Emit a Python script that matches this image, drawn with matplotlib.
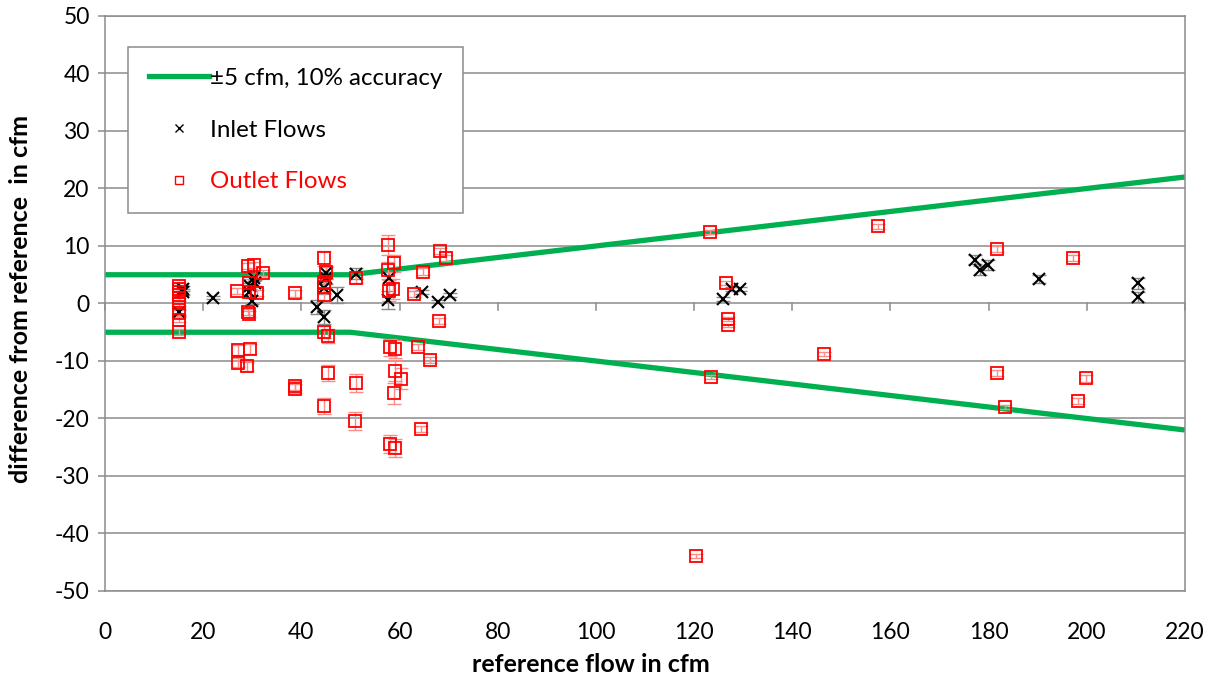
import matplotlib
matplotlib.use("Agg")
import matplotlib.pyplot as plt
from matplotlib.lines import Line2D
import numpy as np

plt.rcParams['font.family'] = ['Lato', 'DejaVu Sans']
plt.rcParams['axes.unicode_minus'] = False

# accuracy envelope (±5 cfm or 10%)
acc_x = [0, 50, 220]
acc_upper = [5, 5, 22]
acc_lower = [-5, -5, -22]

# Outlet flows: reference flow, difference, error
outlet_x = [15, 15, 15, 15, 15, 15, 15, 15, 15,
            29.2, 30.4, 32.1, 29.3, 29.3, 26.8, 30.9, 29.1, 29.3, 27.0, 27.0, 29.6, 28.9,
            38.8, 38.8, 38.8,
            44.7, 45.1, 44.7, 44.7, 44.7, 44.7, 45.4, 45.4, 44.7,
            51.2, 51.2, 51.0,
            57.7, 58.9, 57.6, 58.7, 57.9, 58.0, 59.0, 59.0, 60.3, 58.8, 58.0, 59.1,
            64.7, 68.3, 69.5, 62.9, 68.1, 63.8, 66.2, 64.4,
            123.3, 126.6, 126.9, 126.9, 123.5, 120.3, 157.4, 181.7, 197.2, 146.4,
            181.7, 199.8, 198.2, 183.3]
outlet_y = [3.0, 2.5, 2.0, 1.5, 1.0, 0.0, -1.7, -2.8, -5.0,
            6.5, 6.7, 5.3, 3.6, 2.0, 2.2, 1.8, -1.5, -1.8, -8.1, -10.3, -7.9, -10.9,
            1.8, -14.3, -14.8,
            7.9, 5.5, 3.7, 2.9, 1.5, -5.0, -5.7, -12.1, -17.8,
            4.5, -13.8, -20.4,
            10.2, 7.0, 5.8, 2.5, 2.2, -7.6, -7.9, -11.7, -13.1, -15.6, -24.4, -25.1,
            5.5, 9.1, 7.9, 1.7, -3.0, -7.6, -9.8, -21.8,
            12.4, 3.6, -2.7, -3.8, -12.8, -43.9, 13.4, 9.5, 7.9, -8.8,
            -12.1, -13.0, -16.9, -18.0]
outlet_err = [0.5, 0.5, 0.5, 0.5, 0.5, 0.5, 0.5, 0.5, 0.5,
              0.5, 0.6, 0.6, 0.6, 0.5, 0.5, 0.5, 0.5, 0.5, 0.8, 0.8, 0.8, 0.8,
              0.6, 0.8, 0.8,
              1.3, 1.0, 1.0, 1.0, 1.0, 1.0, 1.2, 1.4, 1.35,
              1.0, 1.6, 1.6,
              1.75, 1.5, 1.5, 1.8, 1.8, 1.5, 1.5, 1.8, 1.8, 1.8, 1.6, 1.6,
              0.6, 0.5, 0.5, 0.5, 0.5, 0.5, 0.5, 0.5,
              0.3, 0.3, 0.3, 0.3, 0.3, 0.3, 0.4, 0.5, 0.5, 0.4,
              0.5, 0.6, 0.5, 0.3]

# Inlet flows
inlet_x = [15.8, 15.8, 15.0, 22.1,
           30.3, 30.5, 29.5, 29.3, 30.0,
           45.1, 45.1, 44.7, 47.2, 43.1, 44.7,
           51.2, 57.9, 57.7,
           64.5, 67.9, 70.3,
           125.8, 127.8, 129.4,
           177.2, 178.2, 179.9, 190.3, 210.5, 210.5]
inlet_y = [2.6, 2.0, -1.5, 1.0,
           4.4, 3.6, 3.0, 2.0, 0.4,
           5.3, 4.4, 2.7, 1.5, -0.6, -2.3,
           5.2, 4.4, 0.6,
           2.0, 0.3, 1.5,
           0.8, 2.5, 2.5,
           7.6, 5.8, 6.7, 4.3, 3.5, 1.1]
inlet_err = [0.5, 0.5, 0.5, 0.3,
             0.5, 0.5, 0.5, 0.5, 0.5,
             1.0, 1.0, 1.0, 1.4, 1.2, 1.2,
             1.0, 1.0, 1.5,
             0.3, 0.3, 0.3,
             0.3, 0.3, 0.3,
             0.8, 0.8, 0.8, 0.7, 0.9, 0.9]

xticks = list(range(0, 221, 20))
yticks = list(range(-50, 51, 10))

fig = plt.figure(figsize=(12.12, 6.83), dpi=100)
ax = fig.add_axes([0.0866, 0.1347, 0.8911, 0.8419])
ax.set_xlim(0, 220)
ax.set_ylim(-50, 50)

grid_c = '#8c8c8c'
for yv in yticks:
    ax.axhline(yv, color=grid_c, lw=1.1, zorder=1)
for s in ['left', 'right', 'top', 'bottom']:
    ax.spines[s].set_color(grid_c)
    ax.spines[s].set_linewidth(1.1)

ax.set_xticks(xticks)
ax.set_yticks(yticks)
ax.tick_params(axis='x', length=0, labelsize=16.5, pad=22, colors='black')
ax.tick_params(axis='y', length=5, width=1.1, color=grid_c, labelsize=16.5, pad=6)
# x-axis tick marks at y = 0
for t in xticks:
    ax.plot([t, t], [0, -1.05], color=grid_c, lw=1.1, zorder=1, clip_on=False)

green = '#00b050'
ax.plot(acc_x, acc_upper, color=green, lw=3.8, zorder=2, solid_capstyle='butt')
ax.plot(acc_x, acc_lower, color=green, lw=3.8, zorder=2, solid_capstyle='butt')

ax.errorbar(inlet_x, inlet_y, yerr=inlet_err, fmt='none', ecolor='#8a8a8a',
            elinewidth=1.0, capsize=5, capthick=1.0, zorder=3)
ax.errorbar(outlet_x, outlet_y, yerr=outlet_err, fmt='none', ecolor='#ff8a8a',
            elinewidth=1.0, capsize=5, capthick=1.0, zorder=3)
ax.plot(inlet_x, inlet_y, ls='none', marker='x', ms=8, mew=1.5, color='black', zorder=4)
ax.plot(outlet_x, outlet_y, ls='none', marker='s', ms=8, mew=1.3, mfc='none',
        mec='#ff0000', zorder=4)

ax.set_xlabel('reference flow in cfm', fontsize=18, fontweight='bold')
ax.xaxis.set_label_coords(0.45, -0.127)
ax.xaxis.label.set_va('center')
ax.set_ylabel('difference from reference  in cfm', fontsize=18, fontweight='bold')
ax.yaxis.set_label_coords(-0.078, 0.508)
ax.yaxis.label.set_va('center')

handles = [Line2D([], [], color=green, lw=3.8),
           Line2D([], [], ls='none', marker='x', ms=6, mew=1.0, color='black'),
           Line2D([], [], ls='none', marker='s', ms=6, mew=1.0, mfc='none', mec='#ff0000')]
labels = ['±5 cfm, 10% accuracy', 'Inlet Flows', 'Outlet Flows']
leg = ax.legend(handles, labels, loc='upper left', bbox_to_anchor=(0.0213, 0.946),
                fontsize=17.4, frameon=True, fancybox=False, framealpha=1,
                edgecolor=grid_c, labelspacing=1.28, handlelength=2.5,
                borderpad=0.85, handletextpad=0.05, borderaxespad=0)
leg.get_frame().set_linewidth(1.1)
leg.get_texts()[2].set_color('#ff0000')

fig.savefig('out.png', dpi=100)
